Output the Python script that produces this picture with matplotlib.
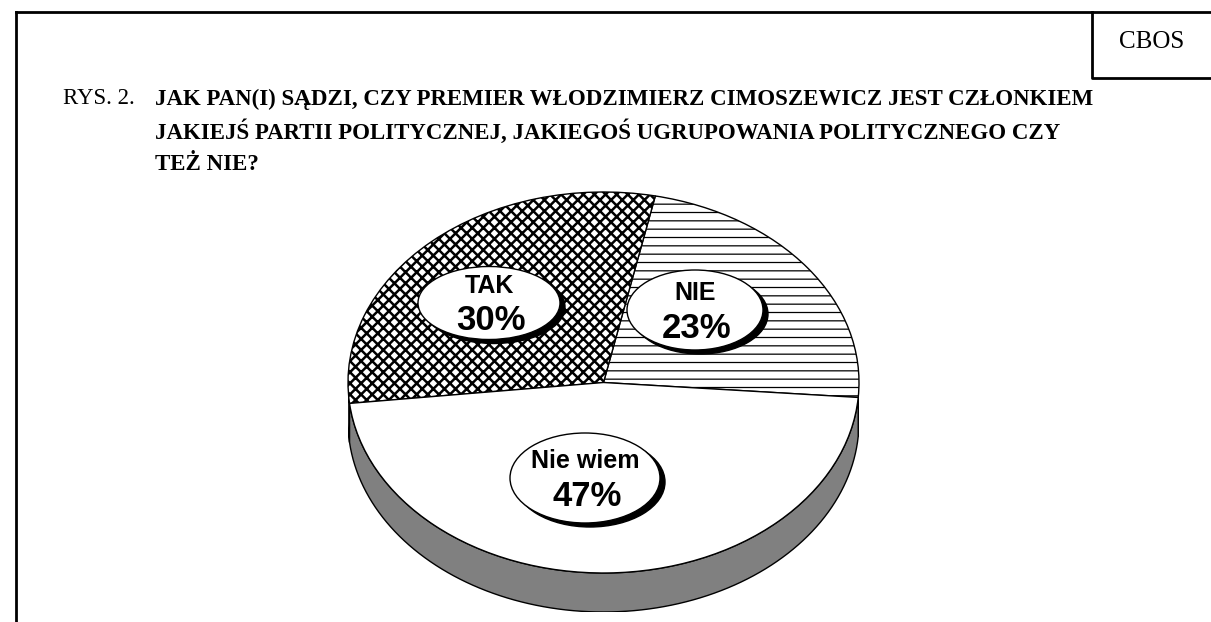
import numpy as np
import matplotlib
matplotlib.use('Agg')
import matplotlib.pyplot as plt
from matplotlib.patches import Ellipse, Polygon

# data
labels = ['NIE', 'TAK', 'Nie wiem']
values = [23, 30, 47]
hatches = ['--', 'xxx', '']
side_colors = ['white', 'white', '#808080']
title_lines = ['JAK PAN(I) SĄDZI, CZY PREMIER WŁODZIMIERZ CIMOSZEWICZ JEST CZŁONKIEM',
               'JAKIEJŚ PARTII POLITYCZNEJ, JAKIEGOŚ UGRUPOWANIA POLITYCZNEGO CZY',
               'TEŻ NIE?']

W, H = 1211, 622
fig = plt.figure(figsize=(W / 100, H / 100), dpi=100)
fig.patch.set_facecolor('white')

# background frame + title (pixel coords, y down)
bg = fig.add_axes([0, 0, 1, 1], zorder=0)
bg.set_xlim(0, W)
bg.set_ylim(H, 0)
bg.axis('off')
bg.plot([16, W], [12, 12], color='black', lw=2)
bg.plot([16, 16], [12, H], color='black', lw=2)
bg.plot([1092, 1092, W], [12, 78, 78], color='black', lw=2)
bg.text(1152, 42, 'CBOS', fontsize=18, family='Liberation Serif',
        ha='center', va='center')
bg.text(63, 99, 'RYS. 2.', fontsize=16.5, family='Liberation Serif',
        ha='left', va='center')
for i, line in enumerate(title_lines):
    bg.text(155, 99 + i * 32.5, line, fontsize=16.5, family='Liberation Serif',
            fontweight='bold', ha='left', va='center')

# pie axes: ellipse 348..859 x 192..573, side depth 39 px
cx0, cx1, cy0, cy1, depth = 348, 859, 192, 573, 39
ry = (cy1 - cy0) / 2
d = depth / ry
ax = fig.add_axes([cx0 / W, (H - cy1 - depth) / H, (cx1 - cx0) / W,
                   (cy1 - cy0 + depth) / H], zorder=1)

wedges, _ = ax.pie(values, startangle=-4.5, counterclock=True, radius=1,
                   colors=['white'] * 3,
                   wedgeprops=dict(edgecolor='black', linewidth=1))
for w, h in zip(wedges, hatches):
    w.set_hatch(h)
    if hasattr(w, 'set_hatch_linewidth'):
        w.set_hatch_linewidth(1.8 if h == 'xxx' else 0.9)

# visible side of the 3D pie (front half)
for w, c in zip(wedges, side_colors):
    a1, a2 = w.theta1 % 360, w.theta2 % 360
    if a2 <= a1:
        a2 += 360
    lo, hi = max(a1, 180), min(a2, 360)
    if hi <= lo:
        continue
    t = np.radians(np.linspace(lo, hi, 100))
    xs = np.concatenate([np.cos(t), np.cos(t[::-1])])
    ys = np.concatenate([np.sin(t), np.sin(t[::-1]) - d])
    ax.add_patch(Polygon(np.column_stack([xs, ys]), closed=True,
                         facecolor=c, edgecolor='black', lw=1, zorder=0))

ax.set_aspect('auto')
ax.set_xlim(-1, 1)
ax.set_ylim(-1 - d, 1)
ax.axis('off')

# label bubbles (pixel coords)
ov = fig.add_axes([0, 0, 1, 1], zorder=3)
ov.set_xlim(0, W)
ov.set_ylim(H, 0)
ov.axis('off')
ov.patch.set_alpha(0)
bubble = {'NIE': (695, 310, 136, 80), 'TAK': (489, 303, 142, 73),
          'Nie wiem': (585, 478, 150, 90)}
for name, v in zip(labels, values):
    x, y, bw, bh = bubble[name]
    ov.add_patch(Ellipse((x + 5, y + 4), bw, bh, facecolor='black',
                         edgecolor='black'))
    ov.add_patch(Ellipse((x, y), bw, bh, facecolor='white',
                         edgecolor='black', lw=1))
    ov.text(x, y - 17, name, fontsize=18, fontweight='bold',
            family='Liberation Sans', ha='center', va='center')
    ov.text(x + 2, y + 18, f'{v}%', fontsize=25, fontweight='bold',
            family='Liberation Sans', ha='center', va='center')

fig.savefig('out.png', dpi=100)
